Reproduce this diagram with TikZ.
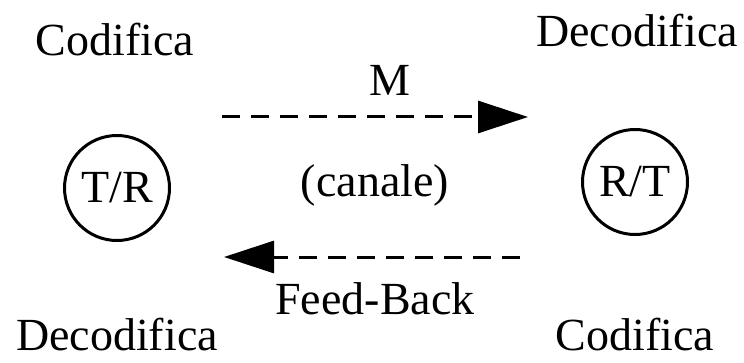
\documentclass[tikz,border=0pt]{standalone}
\usepackage{fontspec}
\setmainfont{Liberation Serif}
\usetikzlibrary{arrows.meta}
\begin{document}
\begin{tikzpicture}[x=1pt,y=1pt,
  lbl/.style={inner sep=0pt,font=\fontsize{46}{54}\selectfont},
  station/.style={circle,draw,line width=3pt,minimum size=105pt,inner sep=0pt,font=\fontsize{46}{54}\selectfont},
  flow/.style={line width=3pt,dash pattern=on 18pt off 11pt,-{Triangle[length=50pt,width=32pt]}}]
\useasboundingbox (0,0) rectangle (744,362);
\node[lbl] (cod1) at (115,322) {Codifica};
\node[lbl] (dec1) at (637,331) {Decodifica};
\node[lbl] (m) at (390,282) {M};
\node[station] (tr) at (117,174) {T/R};
\node[station] (rt) at (635,180) {R/T};
\node[lbl] (can) at (375,177) {(canale)};
\node[lbl] (fb) at (375,63) {Feed-Back};
\node[lbl] (dec2) at (117,27) {Decodifica};
\node[lbl] (cod2) at (635,27) {Codifica};
\coordinate (a1) at (222,245);
\coordinate (a2) at (528,245);
\coordinate (b1) at (520,105);
\coordinate (b2) at (224,105);
\draw[flow] (a1) -- (a2);
\draw[flow] (b1) -- (b2);
\end{tikzpicture}
\end{document}
